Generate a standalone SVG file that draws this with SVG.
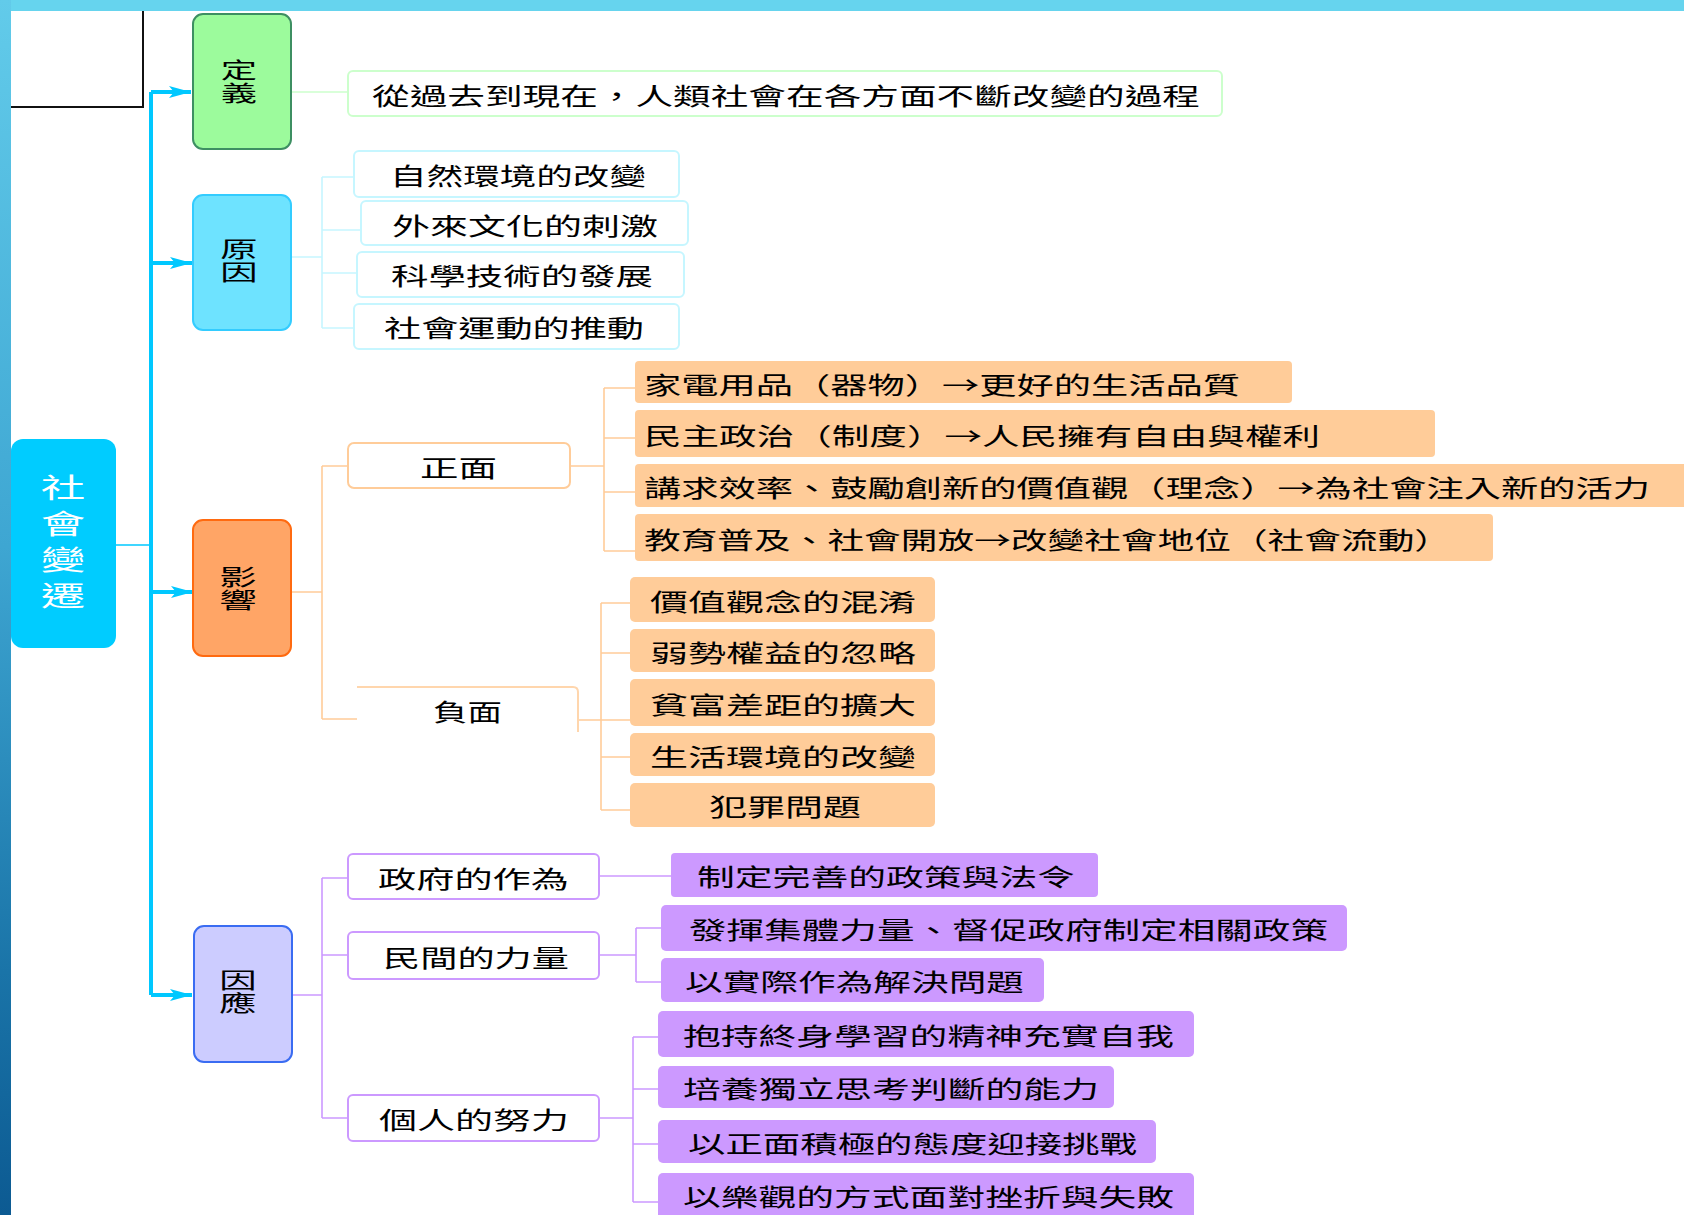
<svg xmlns="http://www.w3.org/2000/svg" width="1684" height="1215" viewBox="0 0 1684 1215">
<defs>
<linearGradient id="band" x1="0" y1="0" x2="0" y2="1">
<stop offset="0" stop-color="#62cbea"/>
<stop offset="0.45" stop-color="#3ea6d2"/>
<stop offset="0.8" stop-color="#1a74a8"/>
<stop offset="1" stop-color="#0c5a92"/>
</linearGradient>
<marker id="arr" markerUnits="userSpaceOnUse" markerWidth="24" markerHeight="14" refX="22" refY="7" orient="auto">
<path d="M0,1 L22,7 L0,13 L5,7 Z" fill="#00c8ff"/>
</marker>
<style>
text{font-family:"Noto Sans CJK TC","Noto Sans CJK SC",sans-serif;font-size:24px;fill:#000;dominant-baseline:central}
.v{font-size:22px;text-anchor:middle;writing-mode:vertical-rl;letter-spacing:1px}
.r{font-size:27px;fill:#fff;text-anchor:middle;writing-mode:vertical-rl;letter-spacing:9px}
.spine{stroke:#00c8ff;stroke-width:4;fill:none}
.thin{stroke-width:1.6;fill:none}
.g{stroke:#ccffcc}
.c{stroke:#c6f6ff}
.o{stroke:#ffcc99}
.p{stroke:#cc99ff}
.wbox{fill:#fff;stroke-width:2}
.peach{fill:#ffcc99}
.purp{fill:#cc99ff}
</style>
</defs>
<rect x="0" y="0" width="1684" height="1215" fill="#fff"/>
<rect x="0" y="0" width="1684" height="11" fill="#66d4ee"/>
<rect x="0" y="0" width="11" height="1215" fill="url(#band)"/>
<path d="M11,107 H143 V11" fill="none" stroke="#111" stroke-width="2"/>

<g id="connectors">
<path class="spine" d="M151,92 V995"/>
<path class="spine" d="M151,92 H191" marker-end="url(#arr)"/>
<path class="spine" d="M151,263 H192" marker-end="url(#arr)"/>
<path class="spine" d="M151,592 H193" marker-end="url(#arr)"/>
<path class="spine" d="M151,995 H192" marker-end="url(#arr)"/>
<path d="M116,545 H151" stroke="#00c8ff" stroke-width="1.6" fill="none"/>
<path class="thin g" d="M292,92 H348"/>
<path class="thin c" d="M292,257 H322 M322,177 V328 M322,177 H354 M322,230 H361 M322,273 H357 M322,328 H354"/>
<path class="thin o" d="M292,592 H322 M322,466 V719 M322,466 H348 M322,719 H357"/>
<path class="thin o" d="M570,466 H604 M604,388 V551 M604,388 H635 M604,438 H635 M604,492 H635 M604,551 H635"/>
<path class="thin o" d="M578,720 H630 M601,603 V810 M601,603 H630 M601,653 H630 M601,757 H630 M601,810 H630"/>
<path class="thin p" d="M292,995 H322 M322,878 V1118 M322,878 H348 M322,955 H348 M322,1118 H348"/>
<path class="thin p" d="M599,876 H671"/>
<path class="thin p" d="M599,955 H636 M636,928 V982 M636,928 H661 M636,982 H661"/>
<path class="thin p" d="M599,1118 H633 M633,1037 V1202 M633,1037 H658 M633,1089 H658 M633,1144 H658 M633,1202 H658"/>
</g>

<g id="root">
<rect x="11" y="439" width="105" height="209" rx="12" fill="#00ccff"/>
<text class="r" transform="translate(63,0) scale(1.65,1)" x="0" y="546">社會變遷</text>
</g>

<g id="definition">
<rect x="193" y="14" width="98" height="135" rx="10" fill="#9cfb9c" stroke="#3d8f62" stroke-width="2"/>
<text class="v" transform="translate(239,0) scale(1.65,1)" x="0" y="82">定義</text>
</g>
<g id="definition-text">
<rect x="348" y="71" width="874" height="45" rx="5" class="wbox g"/>
<text x="372" y="94" textLength="828" lengthAdjust="spacingAndGlyphs">從過去到現在，人類社會在各方面不斷改變的過程</text>
</g>

<g id="cause">
<rect x="193" y="195" width="98" height="135" rx="10" fill="#6ee3ff" stroke="#33ccff" stroke-width="2"/>
<text class="v" transform="translate(239,0) scale(1.7,1)" x="0" y="261">原因</text>
</g>
<g id="cause-1"><rect x="354" y="151" width="325" height="46" rx="5" class="wbox c"/><text x="390" y="174" textLength="256" lengthAdjust="spacingAndGlyphs">自然環境的改變</text></g>
<g id="cause-2"><rect x="361" y="201" width="327" height="44" rx="5" class="wbox c"/><text x="392" y="224" textLength="266" lengthAdjust="spacingAndGlyphs">外來文化的刺激</text></g>
<g id="cause-3"><rect x="357" y="252" width="327" height="45" rx="5" class="wbox c"/><text x="391" y="274" textLength="262" lengthAdjust="spacingAndGlyphs">科學技術的發展</text></g>
<g id="cause-4"><rect x="354" y="304" width="325" height="45" rx="5" class="wbox c"/><text x="384" y="326" textLength="260" lengthAdjust="spacingAndGlyphs">社會運動的推動</text></g>

<g id="impact">
<rect x="193" y="520" width="98" height="136" rx="10" fill="#ffa566" stroke="#ff6a10" stroke-width="2"/>
<text class="v" transform="translate(238,0) scale(1.7,1)" x="0" y="589">影響</text>
</g>
<g id="positive"><rect x="348" y="443" width="222" height="45" rx="6" class="wbox o"/><text x="420" y="466" textLength="77" lengthAdjust="spacingAndGlyphs">正面</text></g>
<g id="pos-1"><rect x="635" y="361" width="657" height="42" rx="4" class="peach"/><text x="644" y="383" textLength="596" lengthAdjust="spacingAndGlyphs">家電用品（器物）→更好的生活品質</text></g>
<g id="pos-2"><rect x="635" y="410" width="800" height="47" rx="4" class="peach"/><text x="644" y="434" textLength="676" lengthAdjust="spacingAndGlyphs">民主政治（制度）→人民擁有自由與權利</text></g>
<g id="pos-3"><rect x="635" y="464" width="1060" height="43" rx="4" class="peach"/><text x="644" y="486" textLength="1006" lengthAdjust="spacingAndGlyphs">講求效率、鼓勵創新的價值觀（理念）→為社會注入新的活力</text></g>
<g id="pos-4"><rect x="635" y="514" width="858" height="47" rx="4" class="peach"/><text x="644" y="538" textLength="807" lengthAdjust="spacingAndGlyphs">教育普及、社會開放→改變社會地位（社會流動）</text></g>

<g id="negative"><path d="M357,687 H573 Q578,687 578,692 V732" fill="none" stroke="#ffd6ad" stroke-width="2"/><text x="433" y="710" textLength="69" lengthAdjust="spacingAndGlyphs">負面</text></g>
<g id="neg-1"><rect x="630" y="577" width="305" height="45" rx="5" class="peach"/><text x="650" y="600" textLength="266" lengthAdjust="spacingAndGlyphs">價值觀念的混淆</text></g>
<g id="neg-2"><rect x="630" y="629" width="305" height="43" rx="5" class="peach"/><text x="650" y="651" textLength="266" lengthAdjust="spacingAndGlyphs">弱勢權益的忽略</text></g>
<g id="neg-3"><rect x="630" y="679" width="305" height="47" rx="5" class="peach"/><text x="650" y="703" textLength="266" lengthAdjust="spacingAndGlyphs">貧富差距的擴大</text></g>
<g id="neg-4"><rect x="630" y="733" width="305" height="43" rx="5" class="peach"/><text x="650" y="755" textLength="266" lengthAdjust="spacingAndGlyphs">生活環境的改變</text></g>
<g id="neg-5"><rect x="630" y="783" width="305" height="44" rx="5" class="peach"/><text x="709" y="805" textLength="152" lengthAdjust="spacingAndGlyphs">犯罪問題</text></g>

<g id="response">
<rect x="194" y="926" width="98" height="136" rx="10" fill="#ccccff" stroke="#3a6cf2" stroke-width="2"/>
<text class="v" transform="translate(238,0) scale(1.7,1)" x="0" y="992">因應</text>
</g>
<g id="gov"><rect x="348" y="854" width="251" height="45" rx="5" class="wbox p"/><text x="378" y="877" textLength="191" lengthAdjust="spacingAndGlyphs">政府的作為</text></g>
<g id="civil"><rect x="348" y="932" width="251" height="47" rx="5" class="wbox p"/><text x="383" y="956" textLength="186" lengthAdjust="spacingAndGlyphs">民間的力量</text></g>
<g id="personal"><rect x="348" y="1095" width="251" height="46" rx="5" class="wbox p"/><text x="379" y="1118" textLength="190" lengthAdjust="spacingAndGlyphs">個人的努力</text></g>
<g id="gov-1"><rect x="671" y="853" width="427" height="44" rx="4" class="purp"/><text x="697" y="875" textLength="378" lengthAdjust="spacingAndGlyphs">制定完善的政策與法令</text></g>
<g id="civil-1"><rect x="661" y="905" width="686" height="46" rx="5" class="purp"/><text x="689" y="928" textLength="639" lengthAdjust="spacingAndGlyphs">發揮集體力量、督促政府制定相關政策</text></g>
<g id="civil-2"><rect x="661" y="958" width="383" height="44" rx="5" class="purp"/><text x="685" y="980" textLength="339" lengthAdjust="spacingAndGlyphs">以實際作為解決問題</text></g>
<g id="pers-1"><rect x="658" y="1011" width="536" height="46" rx="5" class="purp"/><text x="683" y="1034" textLength="491" lengthAdjust="spacingAndGlyphs">抱持終身學習的精神充實自我</text></g>
<g id="pers-2"><rect x="658" y="1066" width="456" height="42" rx="5" class="purp"/><text x="683" y="1087" textLength="416" lengthAdjust="spacingAndGlyphs">培養獨立思考判斷的能力</text></g>
<g id="pers-3"><rect x="658" y="1120" width="498" height="43" rx="5" class="purp"/><text x="688" y="1142" textLength="449" lengthAdjust="spacingAndGlyphs">以正面積極的態度迎接挑戰</text></g>
<g id="pers-4"><rect x="658" y="1173" width="536" height="50" rx="5" class="purp"/><text x="683" y="1195" textLength="491" lengthAdjust="spacingAndGlyphs">以樂觀的方式面對挫折與失敗</text></g>
</svg>
